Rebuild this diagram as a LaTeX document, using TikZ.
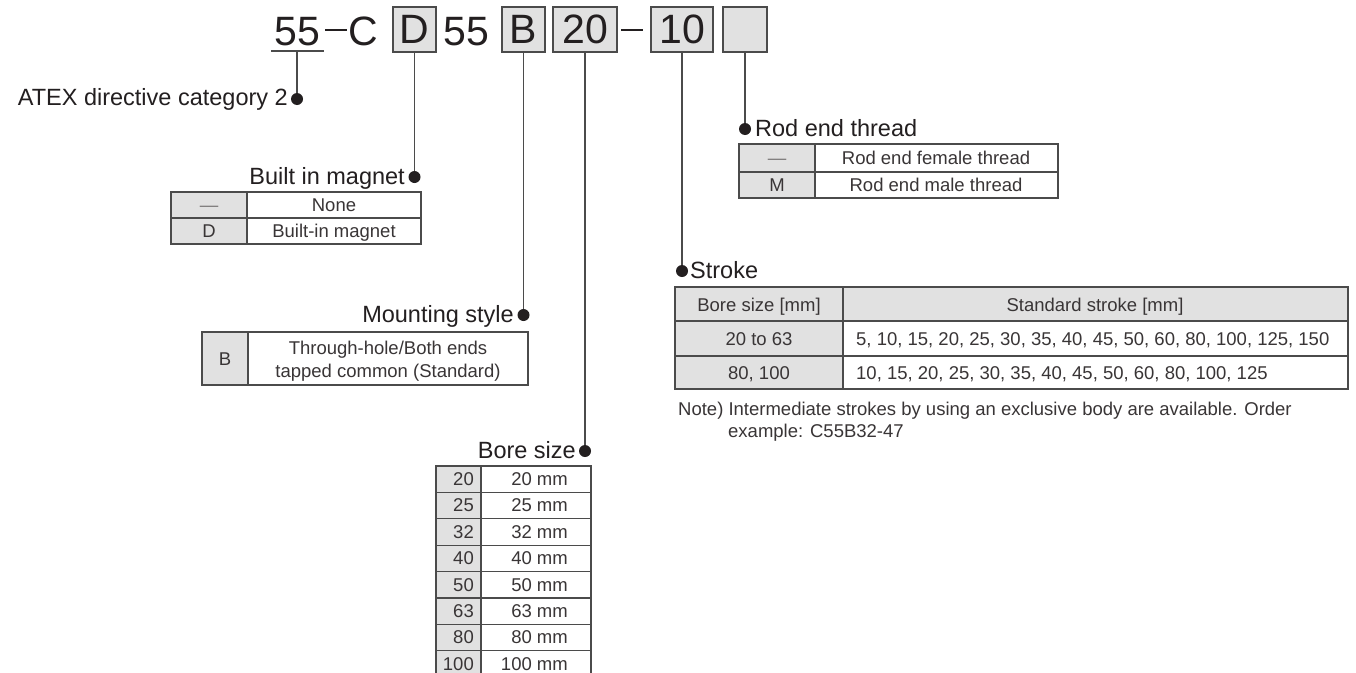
\documentclass[tikz,border=0pt]{standalone}
\usepackage{fontspec}
\setmainfont{Liberation Sans}
\definecolor{cellgray}{RGB}{225,225,225}
\definecolor{ink}{RGB}{35,31,32}
\definecolor{rulec}{RGB}{75,75,75}
\begin{document}
\begin{tikzpicture}[x=1pt,y=-1pt,
  lbl/.style={font=\fontsize{23.5}{28}\selectfont, text=ink, inner sep=0pt},
  cell/.style={font=\fontsize{18.5}{22}\selectfont, text=ink!90, inner sep=0pt},
  big/.style={font=\fontsize{41}{48}\selectfont, text=ink, inner sep=0pt},
  leader/.style={draw=rulec, line width=1.2pt},
  dot/.style={circle, fill=ink, inner sep=0pt, minimum size=12pt},
  tbl/.style={draw=rulec, line width=1.3pt},
  grayfill/.style={fill=cellgray},
  codebox/.style={draw=rulec, fill=cellgray, line width=1.3pt, inner sep=0pt, minimum height=45pt, font=\fontsize{41}{48}\selectfont, text=ink}
]
\useasboundingbox[fill=white] (0,0) rectangle (1356,672);

% ---------- model code ----------
\node[big, anchor=base west] (n55a) at (274,45) {55};
\draw[line width=1.3pt, draw=rulec] (271,51) -- (324,51);
\coordinate (u55) at (297,51);
\draw[line width=1.4pt, draw=ink] (325,30) -- (347,30);
\node[big, anchor=base west] (nC) at (348,45) {C};
\node[codebox, minimum width=43pt] (bD) at (414.5,29.5) {D};
\node[big, anchor=base west] (n55b) at (443,45) {55};
\node[codebox, minimum width=43pt] (bB) at (523.5,29.5) {B};
\node[codebox, minimum width=64pt] (b20) at (585,29.5) {20};
\draw[line width=1.4pt, draw=ink] (621,30) -- (643,30);
\node[codebox, minimum width=62pt] (b10) at (682,29.5) {10};
\node[codebox, minimum width=44pt] (bE) at (745,29.5) {};

% ---------- dots and labels ----------
\draw[leader] (u55) -- (297,99);
\node[dot] (dA) at (297,99) {};
\node[lbl, anchor=base east] (tA) at (288,105) {ATEX directive category 2};

\draw[leader] (bD.south) -- (414.5,177);
\node[dot] (dD) at (414.5,177) {};
\node[lbl, anchor=base east] (tD) at (405,184) {Built in magnet};

\draw[leader] (bB.south) -- (523.5,315);
\node[dot] (dB) at (523.5,315) {};
\node[lbl, anchor=base east] (tB) at (514,322) {Mounting style};

\draw[leader] (b20.south) -- (585,451);
\node[dot] (d20) at (585,451) {};
\node[lbl, anchor=base east] (t20) at (576,458) {Bore size};

\draw[leader] (b10.south) -- (682,271);
\node[dot] (d10) at (682,271) {};
\node[lbl, anchor=base west] (t10) at (690,278) {Stroke};

\draw[leader] (bE.south) -- (745,129);
\node[dot] (dE) at (745,129) {};
\node[lbl, anchor=base west] (tE) at (755,136) {Rod end thread};

% ---------- Built in magnet table ----------
\fill[grayfill] (171,192) rectangle (247,244);
\draw[tbl] (171,192) rectangle (421,244);
\draw[tbl] (171,218) -- (421,218);
\draw[tbl] (247,192) -- (247,244);
\node[cell, anchor=base, text=ink!60] (m1a) at (209,211) {—};
\node[cell, anchor=base] (m1b) at (334,211) {None};
\node[cell, anchor=base] (m2a) at (209,237) {D};
\node[cell, anchor=base] (m2b) at (334,237) {Built-in magnet};

% ---------- Mounting style table ----------
\fill[grayfill] (202,332) rectangle (248,385);
\draw[tbl] (202,332) rectangle (528,385);
\draw[tbl] (248,332) -- (248,385);
\node[cell, anchor=base] (s1a) at (225,365) {B};
\node[cell, anchor=base] (s1b) at (388,354) {Through-hole/Both ends};
\node[cell, anchor=base] (s1c) at (388,377) {tapped common (Standard)};

% ---------- Bore size table ----------
\fill[grayfill] (436,466) rectangle (481,680);
\foreach \i/\v in {0/20,1/25,2/32,3/40,4/50,5/63,6/80,7/100}{
  \draw[tbl] (436,466+\i*26.4) rectangle (591,466+\i*26.4+26.4);
  \node[cell, anchor=base east] (bs\i a) at (474,466+\i*26.4+19.5) {\v};
  \node[cell, anchor=base east] (bs\i b) at (568,466+\i*26.4+19.5) {\v\ mm};
}
\draw[tbl] (481,466) -- (481,680);

% ---------- Rod end thread table ----------
\fill[grayfill] (739,144) rectangle (815,198);
\draw[tbl] (739,144) rectangle (1058,198);
\draw[tbl] (739,172) -- (1058,172);
\draw[tbl] (815,144) -- (815,198);
\node[cell, anchor=base, text=ink!60] (r1a) at (777,164) {—};
\node[cell, anchor=base] (r1b) at (936,164) {Rod end female thread};
\node[cell, anchor=base] (r2a) at (777,191) {M};
\node[cell, anchor=base] (r2b) at (936,191) {Rod end male thread};

% ---------- Stroke table ----------
\fill[grayfill] (675,287) rectangle (1348,321);
\fill[grayfill] (675,321) rectangle (843,389);
\draw[tbl] (675,287) rectangle (1348,389);
\draw[tbl] (675,321) -- (1348,321);
\draw[tbl] (675,356) -- (1348,356);
\draw[tbl] (843,287) -- (843,389);
\node[cell, anchor=base] (k0a) at (759,311) {Bore size [mm]};
\node[cell, anchor=base] (k0b) at (1095,311) {Standard stroke [mm]};
\node[cell, anchor=base] (k1a) at (759,345) {20 to 63};
\node[cell, anchor=base west] (k1b) at (856,345) {5, 10, 15, 20, 25, 30, 35, 40, 45, 50, 60, 80, 100, 125, 150};
\node[cell, anchor=base] (k2a) at (759,379) {80, 100};
\node[cell, anchor=base west] (k2b) at (856,379) {10, 15, 20, 25, 30, 35, 40, 45, 50, 60, 80, 100, 125};

\node[cell, anchor=base west] (note1) at (678,415) {Note) Intermediate strokes by using an exclusive body are available. Order};
\node[cell, anchor=base west] (note2) at (728,437) {example: C55B32-47};
\end{tikzpicture}
\end{document}
